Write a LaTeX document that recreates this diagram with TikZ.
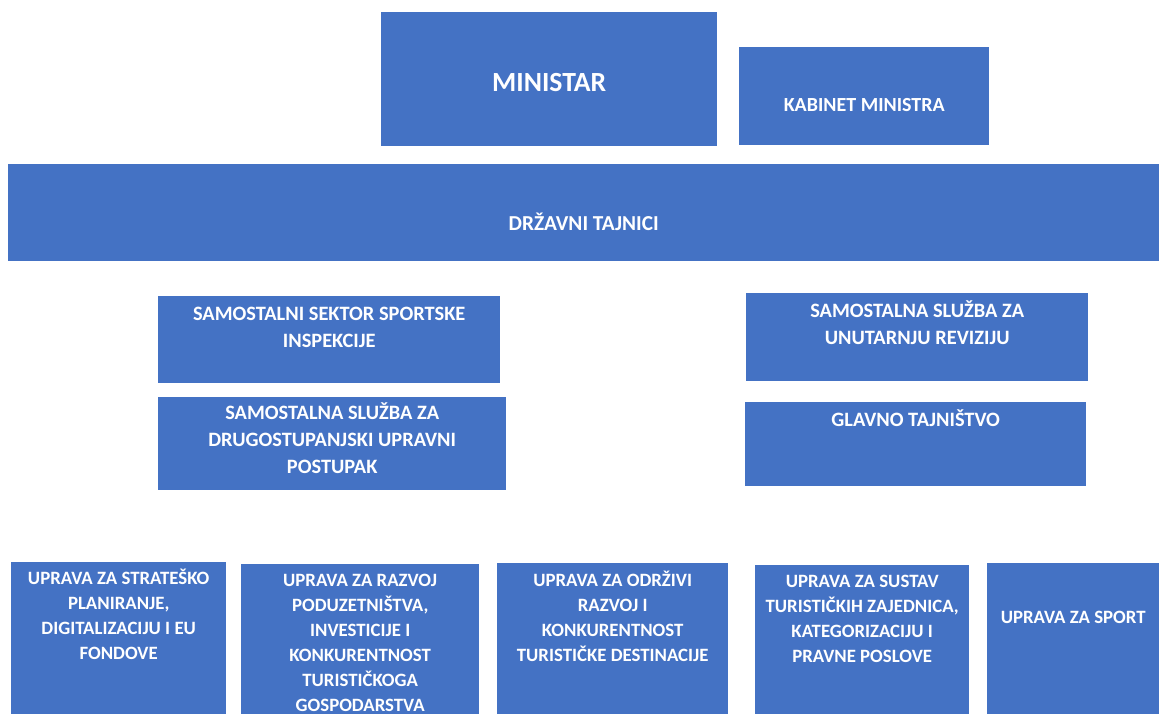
\documentclass[tikz,border=0pt]{standalone}
\usepackage{fontspec}
\setmainfont{Carlito}
\definecolor{unitblue}{HTML}{4472C4}
\begin{document}
\begin{tikzpicture}
  [x=1pt,y=-1pt,every node/.style={inner sep=0pt}]
  \tikzset{unit/.style={fill=unitblue,draw=none,anchor=north west}}
  \tikzset{caption/.style={text=white,align=center,anchor=north,
      font=\bfseries\fontsize{18.8}{25}\selectfont}}
  \tikzset{midcaption/.style={caption,font=\bfseries\fontsize{20.4}{27}\selectfont}}
  \useasboundingbox (0,0) rectangle (1159,714);

  % top
  \node[unit,minimum width=336pt,minimum height=134pt,
    label={[caption,font=\bfseries\fontsize{27.7}{33}\selectfont,yshift=-55.8pt]north:\strut MINISTAR}]
    (ministar) at (381,12) {};
  \node[unit,minimum width=250pt,minimum height=98pt,
    label={[caption,font=\bfseries\fontsize{20}{25}\selectfont,yshift=-47pt]north:\strut KABINET MINISTRA}]
    (kabinet) at (739,47) {};
  \node[unit,minimum width=1151pt,minimum height=97pt,
    label={[caption,font=\bfseries\fontsize{21.3}{25}\selectfont,yshift=-48.4pt]north:\strut DRŽAVNI TAJNICI}]
    (tajnici) at (8,164) {};

  % samostalne jedinice
  \node[unit,minimum width=342pt,minimum height=87pt,
    label={[midcaption,yshift=-5.7pt]north:\strut SAMOSTALNI SEKTOR SPORTSKE\\INSPEKCIJE}]
    (inspekcija) at (158,296) {};
  \node[unit,minimum width=348pt,minimum height=93pt,
    label={[midcaption,yshift=-3.7pt]north:\strut SAMOSTALNA SLUŽBA ZA\\DRUGOSTUPANJSKI UPRAVNI\\POSTUPAK}]
    (postupak) at (158,397) {};
  \node[unit,minimum width=342pt,minimum height=88pt,
    label={[midcaption,yshift=-5.7pt]north:\strut SAMOSTALNA SLUŽBA ZA\\UNUTARNJU REVIZIJU}]
    (revizija) at (746,293) {};
  \node[unit,minimum width=341pt,minimum height=84pt,
    label={[midcaption,yshift=-5.7pt]north:\strut GLAVNO TAJNIŠTVO}]
    (tajnistvo) at (745,402) {};

  % uprave
  \node[unit,minimum width=215pt,minimum height=152pt,
    label={[caption,yshift=-4.5pt]north:\strut UPRAVA ZA STRATEŠKO\\PLANIRANJE,\\DIGITALIZACIJU I EU\\FONDOVE}]
    (strateski) at (11,562) {};
  \node[unit,minimum width=238pt,minimum height=150pt,
    label={[caption,yshift=-4.5pt]north:\strut UPRAVA ZA RAZVOJ\\PODUZETNIŠTVA,\\INVESTICIJE I\\KONKURENTNOST\\TURISTIČKOGA\\GOSPODARSTVA}]
    (poduzetnistvo) at (241,564) {};
  \node[unit,minimum width=231pt,minimum height=151pt,
    label={[caption,yshift=-5.5pt]north:\strut UPRAVA ZA ODRŽIVI\\RAZVOJ I\\KONKURENTNOST\\TURISTIČKE DESTINACIJE}]
    (destinacija) at (497,563) {};
  \node[unit,minimum width=214pt,minimum height=149pt,
    label={[caption,yshift=-4.5pt]north:\strut UPRAVA ZA SUSTAV\\TURISTIČKIH ZAJEDNICA,\\KATEGORIZACIJU I\\PRAVNE POSLOVE}]
    (zajednice) at (755,565) {};
  \node[unit,minimum width=172pt,minimum height=151pt,
    label={[caption,yshift=-42.5pt]north:\strut UPRAVA ZA SPORT}]
    (sport) at (987,563) {};
\end{tikzpicture}
\end{document}
